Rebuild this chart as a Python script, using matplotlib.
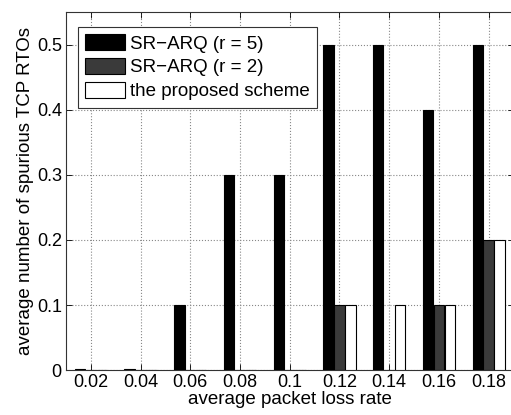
import numpy as np
import matplotlib
matplotlib.use("Agg")
import matplotlib.pyplot as plt

plt.rcParams['font.family'] = ['Liberation Sans', 'DejaVu Sans']

# data
loss_rate = ['0.02', '0.04', '0.06', '0.08', '0.1', '0.12', '0.14', '0.16', '0.18']
sr_arq_r5 = [0.002, 0.002, 0.1, 0.3, 0.3, 0.5, 0.5, 0.4, 0.5]
sr_arq_r2 = [0.0, 0.0, 0.0, 0.0, 0.0, 0.1, 0.0, 0.1, 0.2]
proposed = [0.0, 0.0, 0.0, 0.0, 0.0, 0.1, 0.1, 0.1, 0.2]

x = np.arange(1, len(loss_rate) + 1)
w = 0.21
off = 0.22

fig = plt.figure(figsize=(5.11, 4.15), dpi=100)
ax = fig.add_axes([0.129, 0.108, 0.876, 0.863])

ax.bar(x - off, sr_arq_r5, w, color='black', edgecolor='black', linewidth=0.8, label='SR\u2212ARQ (r = 5)', zorder=3)
ax.bar(x, sr_arq_r2, w, color='#3a3a3a', edgecolor='black', linewidth=0.8, label='SR\u2212ARQ (r = 2)', zorder=3)
ax.bar(x + off, proposed, w, color='white', edgecolor='black', linewidth=0.8, label='the proposed scheme', zorder=3)

ax.set_xlim(0.5, 9.5)
ax.set_ylim(0, 0.55)
ax.set_xticks(x)
ax.set_xticklabels(loss_rate)
ax.set_yticks([0, 0.1, 0.2, 0.3, 0.4, 0.5])
ax.set_yticklabels(['0', '0.1', '0.2', '0.3', '0.4', '0.5'])
ax.tick_params(direction='in', top=True, right=True, labelsize=13, length=4, width=0.6, pad=3)
ax.grid(True, linestyle=':', color='#888888', linewidth=0.8, zorder=0)
for s in ax.spines.values():
    s.set_linewidth(0.8)
    s.set_color('#333333')

ax.set_xlabel('average packet loss rate', fontsize=13.5, labelpad=0)
ax.set_ylabel('average number of spurious TCP RTOs', fontsize=13.5, labelpad=2)

leg = ax.legend(loc='upper left', bbox_to_anchor=(0.006, 0.985), fontsize=13.5,
                handlelength=2.1, handleheight=0.9, handletextpad=0.25,
                labelspacing=0.3, borderpad=0.4, fancybox=False,
                edgecolor='#333333', framealpha=1)
leg.get_frame().set_linewidth(0.8)

fig.savefig('out.png', dpi=100)
